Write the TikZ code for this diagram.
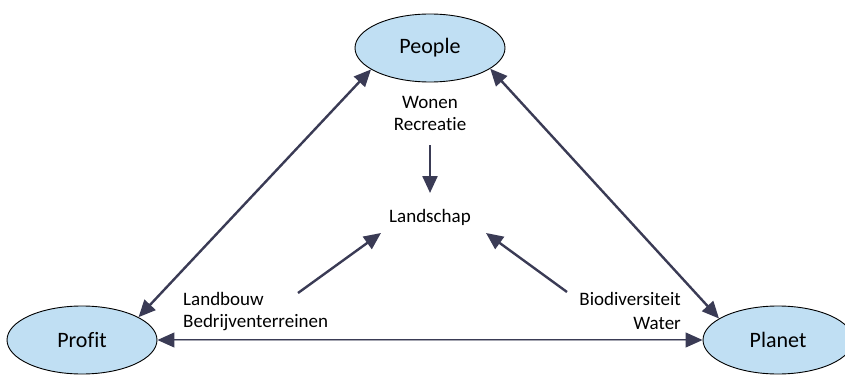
\documentclass[tikz,border=0pt]{standalone}
\usepackage{fontspec}
\setmainfont[Ligatures=NoCommon]{Carlito}
\usetikzlibrary{arrows.meta,shapes.geometric}
\definecolor{linkcol}{HTML}{3A3B55}
\definecolor{pillar}{HTML}{C0DFF3}
\tikzset{
  pillarnode/.style={ellipse, draw=black, line width=0.9pt, fill=pillar,
    minimum width=150pt, minimum height=68pt, inner sep=0pt, font=\fontsize{22}{26}\selectfont},
  label/.style={font=\fontsize{19}{23}\selectfont, inner sep=0pt},
  link/.style={draw=linkcol, line width=2.4pt},
  tip/.style={-{Triangle[length=17pt,width=15pt]}},
  twotip/.style={{Triangle[length=17pt,width=15pt]}-{Triangle[length=17pt,width=15pt]}}
}
\begin{document}
\begin{tikzpicture}[x=1pt,y=-1pt]
\useasboundingbox (0,0) rectangle (845,377);

% the three pillars
\node[pillarnode] (people) at (430,48) {People};
\node[pillarnode] (profit) at (82,340) {Profit};
\node[pillarnode] (planet) at (778,340) {Planet};

% texts
\node[label] (wonen) at (430,102) {Wonen};
\node[label] (recreatie) at (430,124) {Recreatie};
\node[label] (landschap) at (430,217) {Landschap};
\node[label, anchor=west] (landbouw) at (183,299) {Landbouw};
\node[label, anchor=west] (bedrijven) at (183,323) {Bedrijventerreinen};
\node[label, anchor=east] (bio) at (681,299) {Biodiversiteit};
\node[label, anchor=east] (water) at (681,323) {Water};

% connector end points
\coordinate (vtop) at (430,145);
\coordinate (vend) at (430,193);
\coordinate (lstart) at (298,293);
\coordinate (lend) at (381,233);
\coordinate (rstart) at (567,292);
\coordinate (rend) at (486,233);

% links between the pillars
\draw[link, twotip] (profit.22) -- (people.200);
\draw[link, twotip] (people.341) -- (planet.160);
\draw[link, twotip, double=linkcol!45, double distance=0.5pt, line width=1.2pt]
  (profit.east) -- (planet.west);

% links into the landscape
\draw[link, tip] (vtop) -- (vend);
\draw[link, tip] (lstart) -- (lend);
\draw[link, tip] (rstart) -- (rend);
\end{tikzpicture}
\end{document}
